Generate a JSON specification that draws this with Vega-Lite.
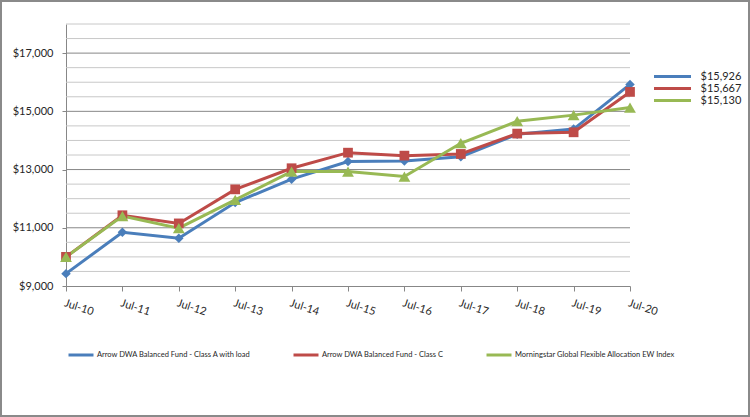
{
  "$schema": "https://vega.github.io/schema/vega-lite/v6.json",
  "width": 748,
  "height": 415,
  "padding": 1,
  "autosize": "none",
  "background": "white",
  "config": {
    "view": {"stroke": "#8a8a8a", "strokeWidth": 2},
    "font": "Lato"
  },
  "datasets": {
    "series": [
      {"date": "Jul-10", "fund": "Arrow DWA Balanced Fund - Class A with load", "end_label": "$15,926", "value": 9425},
      {"date": "Jul-11", "fund": "Arrow DWA Balanced Fund - Class A with load", "end_label": "$15,926", "value": 10845},
      {"date": "Jul-12", "fund": "Arrow DWA Balanced Fund - Class A with load", "end_label": "$15,926", "value": 10640},
      {"date": "Jul-13", "fund": "Arrow DWA Balanced Fund - Class A with load", "end_label": "$15,926", "value": 11865},
      {"date": "Jul-14", "fund": "Arrow DWA Balanced Fund - Class A with load", "end_label": "$15,926", "value": 12670},
      {"date": "Jul-15", "fund": "Arrow DWA Balanced Fund - Class A with load", "end_label": "$15,926", "value": 13275},
      {"date": "Jul-16", "fund": "Arrow DWA Balanced Fund - Class A with load", "end_label": "$15,926", "value": 13290},
      {"date": "Jul-17", "fund": "Arrow DWA Balanced Fund - Class A with load", "end_label": "$15,926", "value": 13440},
      {"date": "Jul-18", "fund": "Arrow DWA Balanced Fund - Class A with load", "end_label": "$15,926", "value": 14210},
      {"date": "Jul-19", "fund": "Arrow DWA Balanced Fund - Class A with load", "end_label": "$15,926", "value": 14390},
      {"date": "Jul-20", "fund": "Arrow DWA Balanced Fund - Class A with load", "end_label": "$15,926", "value": 15926},
      {"date": "Jul-10", "fund": "Arrow DWA Balanced Fund - Class C", "end_label": "$15,667", "value": 10000},
      {"date": "Jul-11", "fund": "Arrow DWA Balanced Fund - Class C", "end_label": "$15,667", "value": 11430},
      {"date": "Jul-12", "fund": "Arrow DWA Balanced Fund - Class C", "end_label": "$15,667", "value": 11150},
      {"date": "Jul-13", "fund": "Arrow DWA Balanced Fund - Class C", "end_label": "$15,667", "value": 12320},
      {"date": "Jul-14", "fund": "Arrow DWA Balanced Fund - Class C", "end_label": "$15,667", "value": 13045},
      {"date": "Jul-15", "fund": "Arrow DWA Balanced Fund - Class C", "end_label": "$15,667", "value": 13580},
      {"date": "Jul-16", "fund": "Arrow DWA Balanced Fund - Class C", "end_label": "$15,667", "value": 13478},
      {"date": "Jul-17", "fund": "Arrow DWA Balanced Fund - Class C", "end_label": "$15,667", "value": 13536},
      {"date": "Jul-18", "fund": "Arrow DWA Balanced Fund - Class C", "end_label": "$15,667", "value": 14235},
      {"date": "Jul-19", "fund": "Arrow DWA Balanced Fund - Class C", "end_label": "$15,667", "value": 14280},
      {"date": "Jul-20", "fund": "Arrow DWA Balanced Fund - Class C", "end_label": "$15,667", "value": 15667},
      {"date": "Jul-10", "fund": "Morningstar Global Flexible Allocation EW Index", "end_label": "$15,130", "value": 10000},
      {"date": "Jul-11", "fund": "Morningstar Global Flexible Allocation EW Index", "end_label": "$15,130", "value": 11400},
      {"date": "Jul-12", "fund": "Morningstar Global Flexible Allocation EW Index", "end_label": "$15,130", "value": 10985},
      {"date": "Jul-13", "fund": "Morningstar Global Flexible Allocation EW Index", "end_label": "$15,130", "value": 11960},
      {"date": "Jul-14", "fund": "Morningstar Global Flexible Allocation EW Index", "end_label": "$15,130", "value": 12930},
      {"date": "Jul-15", "fund": "Morningstar Global Flexible Allocation EW Index", "end_label": "$15,130", "value": 12930},
      {"date": "Jul-16", "fund": "Morningstar Global Flexible Allocation EW Index", "end_label": "$15,130", "value": 12760},
      {"date": "Jul-17", "fund": "Morningstar Global Flexible Allocation EW Index", "end_label": "$15,130", "value": 13904},
      {"date": "Jul-18", "fund": "Morningstar Global Flexible Allocation EW Index", "end_label": "$15,130", "value": 14660},
      {"date": "Jul-19", "fund": "Morningstar Global Flexible Allocation EW Index", "end_label": "$15,130", "value": 14870},
      {"date": "Jul-20", "fund": "Morningstar Global Flexible Allocation EW Index", "end_label": "$15,130", "value": 15130}
    ],
    "grid": [
      {"value": 9500, "major": false},
      {"value": 10000, "major": false},
      {"value": 10500, "major": false},
      {"value": 11500, "major": false},
      {"value": 12000, "major": false},
      {"value": 12500, "major": false},
      {"value": 13500, "major": false},
      {"value": 14000, "major": false},
      {"value": 14500, "major": false},
      {"value": 15500, "major": false},
      {"value": 16000, "major": false},
      {"value": 16500, "major": false},
      {"value": 17500, "major": false},
      {"value": 18000, "major": false},
      {"value": 11000, "major": true},
      {"value": 13000, "major": true},
      {"value": 15000, "major": true},
      {"value": 17000, "major": true}
    ]
  },
  "encoding": {
    "x": {
      "field": "date", "type": "ordinal", "title": null,
      "scale": {"type": "point", "domain": ["Jul-10","Jul-11","Jul-12","Jul-13","Jul-14","Jul-15","Jul-16","Jul-17","Jul-18","Jul-19","Jul-20"], "range": [65, 629], "padding": 0},
      "axis": {"orient": "bottom", "offset": -130, "title": null, "labelAngle": 18, "labelAlign": "left", "labelBaseline": "top", "labelPadding": 6, "tickSize": 5, "domainColor": "#878787", "tickColor": "#878787", "domainWidth": 1, "labelFont": "Lato", "labelFontSize": 11, "labelColor": "#262626", "grid": false}
    },
    "y": {
      "field": "value", "type": "quantitative", "title": null,
      "scale": {"domain": [9000, 18000], "range": [285, 23], "nice": false, "zero": false},
      "axis": {"orient": "left", "offset": -65, "title": null, "values": [9000, 11000, 13000, 15000, 17000], "format": "$,d", "tickSize": 4, "labelPadding": 9, "domainColor": "#878787", "tickColor": "#878787", "labelFont": "Lato", "labelFontSize": 11, "labelColor": "#262626", "grid": false}
    }
  },
  "layer": [
    {
      "data": {"name": "grid"},
      "mark": {"type": "rule", "strokeWidth": 1},
      "encoding": {
        "x": {"datum": "Jul-10", "type": "ordinal", "title": null},
        "x2": {"datum": "Jul-20"},
        "stroke": {"condition": {"test": "datum.major", "value": "#878787"}, "value": "#C8C8C8"}
      }
    },
    {
      "data": {"name": "series"},
      "mark": {"type": "line", "strokeWidth": 3},
      "encoding": {
        "stroke": {
          "field": "fund", "type": "nominal",
          "scale": {"domain": ["Arrow DWA Balanced Fund - Class A with load", "Arrow DWA Balanced Fund - Class C", "Morningstar Global Flexible Allocation EW Index"], "range": ["#4A7EBB", "#BE4B48", "#98B954"]},
          "legend": {
            "orient": "none", "legendX": 66, "legendY": 340, "direction": "horizontal", "title": null,
            "columnPadding": 36, "labelFont": "Lato", "labelFontSize": 7.5, "labelColor": "#262626", "labelLimit": 300, "labelOffset": 2,
            "symbolType": "stroke", "symbolSize": 625, "symbolStrokeWidth": 3, "padding": 0
          }
        }
      }
    },
    {
      "data": {"name": "series"},
      "transform": [{"filter": "datum.fund === 'Arrow DWA Balanced Fund - Class A with load'"}],
      "mark": {"type": "point", "shape": "diamond", "filled": true, "opacity": 1, "size": 90},
      "encoding": {
        "fill": {
          "field": "end_label", "type": "nominal",
          "scale": {"domain": ["$15,926", "$15,667", "$15,130"], "range": ["#4A7EBB", "#BE4B48", "#98B954"]},
          "legend": {
            "orient": "none", "legendX": 666, "legendY": 70, "direction": "vertical", "title": null,
            "labelFont": "Lato", "labelFontSize": 11, "labelColor": "#262626", "labelOffset": 22.5, "rowPadding": 0,
            "symbolType": "M-3.7,-0.3H3.7V0.3H-3.7Z", "symbolSize": 100, "symbolStrokeWidth": 0, "padding": 0
          }
        }
      }
    },
    {
      "data": {"name": "series"},
      "transform": [{"filter": "datum.fund === 'Arrow DWA Balanced Fund - Class C'"}],
      "mark": {"type": "point", "shape": "square", "filled": true, "opacity": 1, "size": 95},
      "encoding": {
        "fill": {
          "field": "end_label", "type": "nominal",
          "scale": {"domain": ["$15,926", "$15,667", "$15,130"], "range": ["#4A7EBB", "#BE4B48", "#98B954"]},
          "legend": {
            "orient": "none", "legendX": 666, "legendY": 70, "direction": "vertical", "title": null,
            "labelFont": "Lato", "labelFontSize": 11, "labelColor": "#262626", "labelOffset": 22.5, "rowPadding": 0,
            "symbolType": "M-3.7,-0.3H3.7V0.3H-3.7Z", "symbolSize": 100, "symbolStrokeWidth": 0, "padding": 0
          }
        }
      }
    },
    {
      "data": {"name": "series"},
      "transform": [{"filter": "datum.fund === 'Morningstar Global Flexible Allocation EW Index'"}],
      "mark": {"type": "point", "shape": "triangle-up", "filled": true, "opacity": 1, "size": 140},
      "encoding": {
        "fill": {
          "field": "end_label", "type": "nominal",
          "scale": {"domain": ["$15,926", "$15,667", "$15,130"], "range": ["#4A7EBB", "#BE4B48", "#98B954"]},
          "legend": {
            "orient": "none", "legendX": 666, "legendY": 70, "direction": "vertical", "title": null,
            "labelFont": "Lato", "labelFontSize": 11, "labelColor": "#262626", "labelOffset": 22.5, "rowPadding": 0,
            "symbolType": "M-3.7,-0.3H3.7V0.3H-3.7Z", "symbolSize": 100, "symbolStrokeWidth": 0, "padding": 0
          }
        }
      }
    }
  ]
}
